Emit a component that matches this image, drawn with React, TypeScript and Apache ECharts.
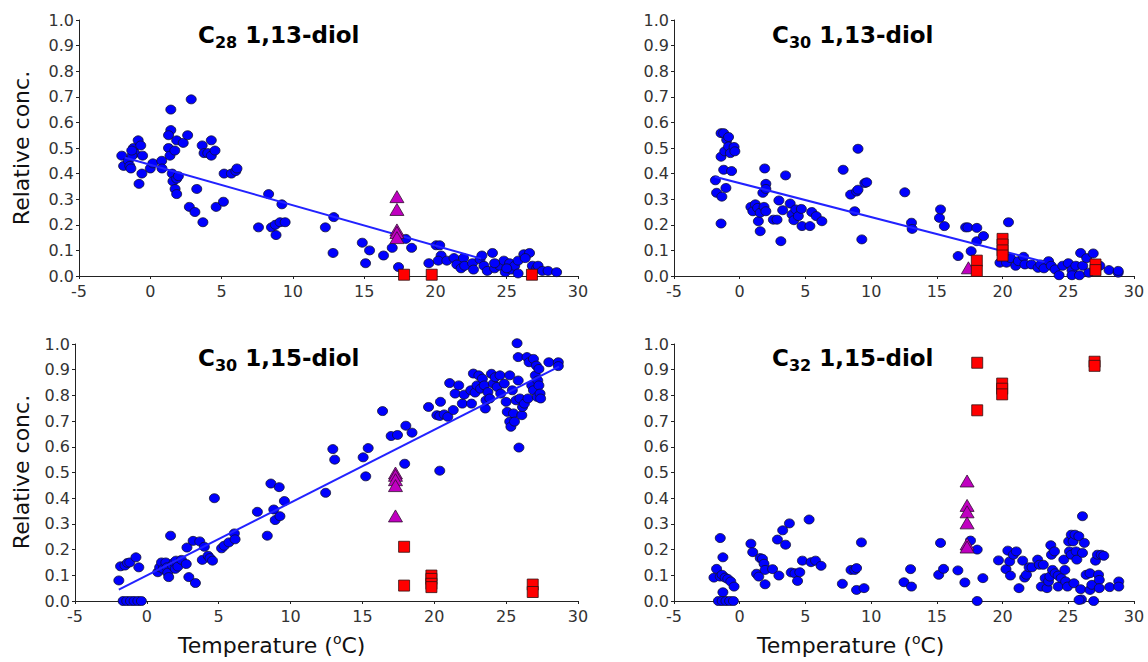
import React, { useEffect, useRef } from "react";
import * as echarts from "echarts";

// ---------- DATA ----------
const xTicks = [-5, 0, 5, 10, 15, 20, 25, 30];
const yTicks = [0, 0.1, 0.2, 0.3, 0.4, 0.5, 0.6, 0.7, 0.8, 0.9, 1.0];

const titleC28 = ["C", "28", " 1,13-diol"];
const titleC30a = ["C", "30", " 1,13-diol"];
const titleC30b = ["C", "30", " 1,15-diol"];
const titleC32 = ["C", "32", " 1,15-diol"];

// Panel 1: C28 1,13-diol
const c28Dots = [
  [-2.0, 0.47], [-1.87, 0.43], [-1.54, 0.45], [-1.44, 0.43], [-1.36, 0.42], [-1.18, 0.5], [-1.1, 0.48],
  [-0.85, 0.53], [-0.67, 0.51], [-0.54, 0.47], [-0.59, 0.4], [-0.79, 0.36], [-1.28, 0.47], [-1.3, 0.49],
  [0.0, 0.42], [0.18, 0.44], [0.8, 0.45], [0.82, 0.42], [1.44, 0.65], [1.44, 0.57], [1.28, 0.55], [1.28, 0.5],
  [1.38, 0.47], [1.72, 0.49], [1.85, 0.53], [1.54, 0.4], [1.59, 0.37], [1.74, 0.34], [1.85, 0.32], [1.85, 0.38],
  [1.97, 0.39], [2.31, 0.52], [2.62, 0.55], [2.87, 0.69], [2.74, 0.27], [3.13, 0.25], [3.26, 0.34], [3.64, 0.51],
  [3.77, 0.48], [4.03, 0.48], [4.28, 0.53], [4.28, 0.47], [4.54, 0.49], [3.69, 0.21], [4.62, 0.27], [5.13, 0.29],
  [5.18, 0.4], [5.69, 0.4], [6.0, 0.41], [6.08, 0.42],
  [7.59, 0.19], [8.3, 0.32], [8.5, 0.19], [8.77, 0.2], [8.82, 0.16], [9.1, 0.21], [9.23, 0.28], [9.46, 0.21],
  [12.28, 0.19], [12.87, 0.23], [12.82, 0.09],
  [14.87, 0.13], [15.1, 0.05], [15.38, 0.1], [16.36, 0.08], [16.97, 0.11], [17.41, 0.035], [17.92, 0.145], [18.33, 0.11],
  [19.54, 0.05], [20.05, 0.12], [20.3, 0.12], [20.4, 0.08], [20.2, 0.06], [20.8, 0.06], [21.3, 0.07], [21.5, 0.045],
  [21.8, 0.03], [21.97, 0.07], [22.05, 0.04], [22.6, 0.05], [22.67, 0.025], [23.13, 0.065], [23.26, 0.08], [23.4, 0.04],
  [23.64, 0.02], [24.0, 0.09], [24.15, 0.03], [24.5, 0.04], [24.8, 0.06], [24.9, 0.015], [25.2, 0.05], [25.3, 0.025],
  [25.56, 0.04], [25.8, 0.06], [25.8, 0.01], [26.2, 0.085], [26.6, 0.09], [26.3, 0.07], [26.8, 0.04], [27.1, 0.03],
  [27.2, 0.04], [27.5, 0.02], [27.9, 0.02], [28.5, 0.015], [24.15, 0.05], [25.0, 0.03],
];
const c28Tri = [[17.3, 0.31], [17.3, 0.26], [17.3, 0.18], [17.3, 0.17], [17.3, 0.15]];
const c28Sq = [[17.8, 0.005], [19.74, 0.005], [26.77, 0.005]];
const c28Fit = [[-1.8, 0.463], [23.2, 0.068]];

// Panel 2: C30 1,13-diol
const c30aDots = [
  [-1.85, 0.374], [-1.76, 0.325], [-1.42, 0.558], [-1.22, 0.558], [-1.42, 0.466], [-1.36, 0.31], [-1.42, 0.205],
  [-1.22, 0.415], [-1.14, 0.487], [-1.05, 0.344], [-0.99, 0.532], [-0.85, 0.543], [-0.85, 0.506], [-0.71, 0.48],
  [-0.62, 0.41], [-0.43, 0.504], [-0.37, 0.487],
  [0.85, 0.27], [1.0, 0.253], [1.19, 0.28], [1.36, 0.266], [1.42, 0.214], [1.56, 0.247], [1.56, 0.175], [1.76, 0.325],
  [1.85, 0.27], [1.9, 0.42], [1.99, 0.36], [1.99, 0.34], [1.99, 0.253], [2.56, 0.22], [2.98, 0.295], [2.84, 0.22],
  [3.13, 0.136], [3.27, 0.257], [3.49, 0.393], [3.84, 0.283], [3.98, 0.24], [4.12, 0.218], [4.26, 0.26], [4.46, 0.234],
  [4.69, 0.262], [4.74, 0.195], [5.34, 0.195], [5.48, 0.25], [5.82, 0.234], [6.25, 0.214],
  [7.87, 0.415], [8.44, 0.318], [8.75, 0.253], [8.89, 0.33], [9.0, 0.497], [9.0, 0.337], [9.29, 0.143], [9.52, 0.363],
  [9.66, 0.366], [12.56, 0.327], [13.07, 0.208], [13.12, 0.184],
  [15.2, 0.227], [15.28, 0.26], [15.57, 0.195], [16.62, 0.078], [17.19, 0.19], [17.36, 0.19], [17.61, 0.097],
  [18.04, 0.188], [18.04, 0.136], [18.55, 0.156], [19.8, 0.052], [20.45, 0.21], [20.3, 0.052], [20.6, 0.07],
  [21.0, 0.04], [21.2, 0.058], [21.6, 0.075], [21.7, 0.045], [22.2, 0.045], [22.7, 0.032], [22.9, 0.045],
  [23.15, 0.03], [23.5, 0.058], [23.7, 0.04], [24.0, 0.026], [24.3, 0.003], [24.57, 0.04], [25.0, 0.05],
  [25.28, 0.023], [25.28, 0.003], [25.57, 0.04], [25.85, 0.003], [25.94, 0.09], [26.1, 0.04], [26.4, 0.07],
  [26.9, 0.088], [27.1, 0.03], [27.4, 0.04], [28.1, 0.023], [28.8, 0.013], [28.8, 0.02], [26.56, 0.013],
];
const c30aTri = [[17.4, 0.032]];
const c30aSq = [
  [18.04, 0.06], [18.04, 0.02], [20.0, 0.145], [20.0, 0.123], [20.0, 0.1], [20.0, 0.08], [27.07, 0.045], [27.07, 0.023],
];
const c30aFit = [[-1.9, 0.388], [23.2, 0.055]];

// Panel 3: C30 1,15-diol
const c30bDots = [
  [-1.95, 0.08], [-1.83, 0.135], [-1.52, 0.138], [-1.35, 0.148], [-1.19, 0.15], [-0.76, 0.17], [-0.56, 0.131],
  [-1.65, 0.0], [-1.4, 0.0], [-1.14, 0.0], [-0.89, 0.0], [-0.63, 0.0], [-0.38, 0.0],
  [0.76, 0.112], [0.89, 0.131], [1.02, 0.15], [1.14, 0.125], [1.32, 0.15], [1.4, 0.131], [1.45, 0.11], [1.52, 0.093],
  [1.65, 0.254], [1.78, 0.138], [1.9, 0.15], [1.98, 0.125], [2.03, 0.157], [2.16, 0.134], [2.41, 0.16], [2.79, 0.208],
  [2.74, 0.144], [2.92, 0.093], [3.22, 0.234], [3.38, 0.07], [3.68, 0.232], [3.86, 0.16], [4.0, 0.211], [4.26, 0.176],
  [4.39, 0.167], [4.57, 0.157], [4.7, 0.4], [5.2, 0.205], [5.38, 0.215], [5.71, 0.228], [6.09, 0.263], [6.14, 0.24],
  [7.69, 0.347], [8.38, 0.254], [8.63, 0.457], [8.83, 0.356], [8.93, 0.315], [9.26, 0.33], [9.21, 0.443], [9.57, 0.389],
  [12.44, 0.421], [12.94, 0.591], [13.07, 0.55], [15.05, 0.559], [15.23, 0.485], [15.4, 0.595], [16.4, 0.739],
  [17.0, 0.642], [17.44, 0.646], [17.94, 0.534], [18.02, 0.682], [18.45, 0.655], [19.6, 0.755], [20.18, 0.723],
  [20.38, 0.72], [20.43, 0.775], [20.38, 0.507], [20.69, 0.726], [20.94, 0.717], [21.07, 0.848], [21.32, 0.743],
  [21.45, 0.807], [21.7, 0.839], [21.95, 0.768], [22.08, 0.803], [22.54, 0.82], [22.59, 0.768], [22.72, 0.885],
  [22.84, 0.811], [22.97, 0.839], [23.1, 0.878], [23.22, 0.826], [23.35, 0.865], [23.48, 0.839], [23.55, 0.749],
  [23.6, 0.781], [23.73, 0.813], [23.86, 0.788], [23.98, 0.884], [24.11, 0.846], [24.24, 0.871], [24.37, 0.833],
  [24.57, 0.878], [24.62, 0.807], [24.87, 0.846], [25.0, 0.775], [25.08, 0.736], [25.25, 0.878], [25.25, 0.698],
  [25.33, 0.678], [25.43, 0.82], [25.51, 0.73], [25.58, 0.698], [25.69, 0.781], [25.76, 1.003], [25.84, 0.949],
  [25.84, 0.858], [25.89, 0.597], [25.96, 0.788], [26.09, 0.723], [26.14, 0.755], [26.27, 0.768], [26.45, 0.949],
  [26.52, 0.788], [26.6, 0.929], [26.78, 0.839], [26.9, 0.942], [26.9, 0.82], [27.03, 0.878], [27.1, 0.916],
  [27.16, 0.794], [27.2, 0.858], [27.28, 0.839], [27.28, 0.903], [27.36, 0.807], [27.4, 0.788], [27.97, 0.929],
  [28.63, 0.929], [28.63, 0.914],
];
const c30bTri = [[17.3, 0.498], [17.3, 0.489], [17.3, 0.472], [17.3, 0.449], [17.3, 0.331]];
const c30bSq = [
  [17.9, 0.211], [17.9, 0.06], [19.8, 0.099], [19.8, 0.086], [19.8, 0.067], [19.8, 0.054], [26.85, 0.064], [26.85, 0.035],
];
const c30bFit = [[-1.95, 0.044], [28.68, 0.912]];

// Panel 4: C32 1,15-diol
const c32Dots = [
  [-1.96, 0.091], [-1.76, 0.125], [-1.48, 0.245], [-1.28, 0.17], [-1.48, 0.095], [-1.34, 0.102], [-1.11, 0.091],
  [-0.91, 0.086], [-0.68, 0.076], [-0.43, 0.056], [-1.28, 0.034], [-1.62, 0.0], [-1.34, 0.0], [-1.05, 0.0],
  [-0.77, 0.0], [-0.48, 0.0],
  [0.85, 0.223], [0.99, 0.19], [1.28, 0.106], [1.45, 0.095], [1.56, 0.167], [1.73, 0.164], [1.85, 0.145], [1.93, 0.121],
  [1.93, 0.065], [2.5, 0.124], [2.87, 0.239], [2.98, 0.099], [3.27, 0.275], [3.49, 0.219], [3.78, 0.302], [3.92, 0.111],
  [4.2, 0.108], [4.4, 0.078], [4.57, 0.112], [4.77, 0.157], [5.28, 0.317], [5.43, 0.151], [5.77, 0.157], [6.19, 0.137],
  [7.81, 0.067], [8.47, 0.121], [8.75, 0.121], [8.89, 0.128], [8.89, 0.043], [9.26, 0.228], [9.46, 0.05],
  [12.5, 0.073], [13.0, 0.124], [13.07, 0.056], [15.14, 0.102], [15.28, 0.226], [15.51, 0.125], [16.6, 0.119],
  [17.13, 0.072], [17.56, 0.235], [18.07, 0.2], [18.07, 0.0], [18.5, 0.089], [19.69, 0.158], [20.26, 0.124],
  [20.4, 0.196], [20.54, 0.154], [20.6, 0.099], [20.82, 0.18], [21.05, 0.193], [21.25, 0.05], [21.53, 0.157],
  [21.68, 0.091], [21.82, 0.102], [22.02, 0.131], [22.24, 0.131], [22.67, 0.161], [22.8, 0.141], [22.95, 0.056],
  [23.1, 0.141], [23.24, 0.089], [23.38, 0.05], [23.5, 0.076], [23.6, 0.095], [23.67, 0.217], [23.72, 0.18],
  [23.8, 0.121], [23.95, 0.193], [24.0, 0.108], [24.23, 0.099], [24.23, 0.056], [24.46, 0.089], [24.66, 0.161],
  [24.74, 0.121], [24.8, 0.076], [24.94, 0.056], [25.03, 0.232], [25.09, 0.193], [25.23, 0.258], [25.23, 0.18],
  [25.37, 0.232], [25.43, 0.069], [25.51, 0.258], [25.6, 0.193], [25.65, 0.161], [25.8, 0.252], [25.94, 0.046],
  [26.0, 0.006], [26.08, 0.33], [26.08, 0.187], [26.22, 0.226], [26.36, 0.102], [26.65, 0.108], [26.65, 0.043],
  [26.79, 0.063], [26.93, 0.0], [27.07, 0.157], [27.22, 0.18], [27.3, 0.102], [27.36, 0.082], [27.36, 0.05],
  [27.5, 0.18], [27.7, 0.176], [28.15, 0.054], [28.84, 0.076], [28.84, 0.056], [25.82, 0.004],
];
const c32Tri = [[17.3, 0.467], [17.3, 0.372], [17.3, 0.347], [17.3, 0.304], [17.3, 0.222], [17.3, 0.21]];
const c32Sq = [[18.07, 0.927], [18.07, 0.742], [19.97, 0.846], [19.97, 0.826], [19.97, 0.804], [27.0, 0.931], [27.0, 0.915]];

// ---------- STYLE ----------
const FONT = "'DejaVu Sans', Verdana, sans-serif";
const DOT = "#0000ff";
const TRI = "#c000c0";
const SQ = "#ff0000";
const LINE = "#2222ff";

const grids = [
  { left: 79, top: 20, width: 499, height: 256 },
  { left: 674, top: 20, width: 460, height: 256 },
  { left: 75, top: 344, width: 503, height: 257 },
  { left: 674, top: 344, width: 460, height: 257 },
];

const panels = [
  { dots: c28Dots, tri: c28Tri, sq: c28Sq, fit: c28Fit, title: titleC28, tx: 198, ty: 39 },
  { dots: c30aDots, tri: c30aTri, sq: c30aSq, fit: c30aFit, title: titleC30a, tx: 772, ty: 39 },
  { dots: c30bDots, tri: c30bTri, sq: c30bSq, fit: c30bFit, title: titleC30b, tx: 198, ty: 362 },
  { dots: c32Dots, tri: c32Tri, sq: c32Sq, fit: null, title: titleC32, tx: 772, ty: 362 },
];

function buildOption() {
  const xAxis = grids.map((_, i) => ({
    type: "value",
    gridIndex: i,
    min: xTicks[0],
    max: xTicks[xTicks.length - 1],
    interval: 5,
    axisLine: { show: true, onZero: false, lineStyle: { color: "#222", width: 1 } },
    axisTick: { show: true, length: 3, lineStyle: { color: "#222" } },
    splitLine: { show: false },
    axisLabel: { color: "#333", fontSize: 16, fontFamily: FONT, margin: 7 },
  }));
  const yAxis = grids.map((_, i) => ({
    type: "value",
    gridIndex: i,
    min: yTicks[0],
    max: yTicks[yTicks.length - 1],
    interval: 0.1,
    axisLine: { show: true, onZero: false, lineStyle: { color: "#222", width: 1 } },
    axisTick: { show: true, length: 3, lineStyle: { color: "#222" } },
    splitLine: { show: false },
    axisLabel: {
      color: "#333",
      fontSize: 16,
      fontFamily: FONT,
      margin: 5,
      formatter: (v: number) => v.toFixed(1),
    },
  }));

  const series: any[] = [];
  panels.forEach((p, i) => {
    series.push({
      type: "scatter",
      xAxisIndex: i,
      yAxisIndex: i,
      data: p.dots,
      clip: false,
      symbol: "circle",
      symbolSize: [10, 9],
      itemStyle: { color: DOT, borderColor: "#101030", borderWidth: 0.8, opacity: 1 },
      z: 2,
    });
    if (p.fit) {
      series.push({
        type: "line",
        xAxisIndex: i,
        yAxisIndex: i,
        data: p.fit,
        showSymbol: false,
        symbol: "none",
        lineStyle: { color: LINE, width: 2 },
        z: 3,
      });
    }
    series.push({
      type: "scatter",
      xAxisIndex: i,
      yAxisIndex: i,
      data: p.tri,
      clip: false,
      symbol: "triangle",
      symbolSize: [14, 12],
      itemStyle: { color: TRI, borderColor: "#301030", borderWidth: 0.8, opacity: 1 },
      z: 4,
    });
    series.push({
      type: "scatter",
      xAxisIndex: i,
      yAxisIndex: i,
      data: p.sq,
      clip: false,
      symbol: "rect",
      symbolSize: [11, 11],
      itemStyle: { color: SQ, borderColor: "#301010", borderWidth: 0.8, opacity: 1 },
      z: 5,
    });
  });

  const titleRich = {
    main: { fontSize: 23, fontWeight: "bold", fontFamily: FONT, fill: "#000", lineHeight: 31 },
    sub: { fontSize: 16, fontWeight: "bold", fontFamily: FONT, fill: "#000", lineHeight: 16, verticalAlign: "bottom" },
  };

  const graphics: any[] = panels.map((p) => ({
    type: "text",
    left: p.tx,
    top: p.ty - 16,
    style: {
      text: `{main|${p.title[0]}}{sub|${p.title[1]}}{main|${p.title[2]}}`,
      rich: titleRich,
      fill: "#000",
    },
    z: 10,
  }));

  const yName = "Relative conc.";
  [148, 472].forEach((cy) => {
    graphics.push({
      type: "text",
      x: 21,
      y: cy,
      rotation: Math.PI / 2,
      style: {
        text: yName,
        fontSize: 22,
        fontFamily: FONT,
        fill: "#111",
        align: "center",
        verticalAlign: "middle",
      },
      z: 10,
    });
  });

  const xNameRich = {
    main: { fontSize: 22, fontFamily: FONT, fill: "#111", lineHeight: 26 },
    sup: { fontSize: 14, fontFamily: FONT, fill: "#111", lineHeight: 14, verticalAlign: "top" },
  };
  [178, 757].forEach((lx) => {
    graphics.push({
      type: "text",
      left: lx,
      top: 632,
      style: {
        text: "{main|Temperature (}{sup|o}{main|C)}",
        rich: xNameRich,
        fill: "#111",
      },
      z: 10,
    });
  });

  return {
    animation: false,
    backgroundColor: "#ffffff",
    grid: grids.map((g) => ({ ...g, containLabel: false })),
    xAxis,
    yAxis,
    series,
    graphic: graphics,
  };
}

export default function App() {
  const ref = useRef<HTMLDivElement>(null);
  useEffect(() => {
    if (!ref.current) return;
    const chart = echarts.init(ref.current, undefined, { renderer: "svg" });
    chart.setOption(buildOption() as any);
    return () => chart.dispose();
  }, []);
  return (
    <div
      ref={ref}
      style={{ position: "fixed", left: 0, top: 0, width: 1148, height: 662, background: "#fff" }}
    />
  );
}
